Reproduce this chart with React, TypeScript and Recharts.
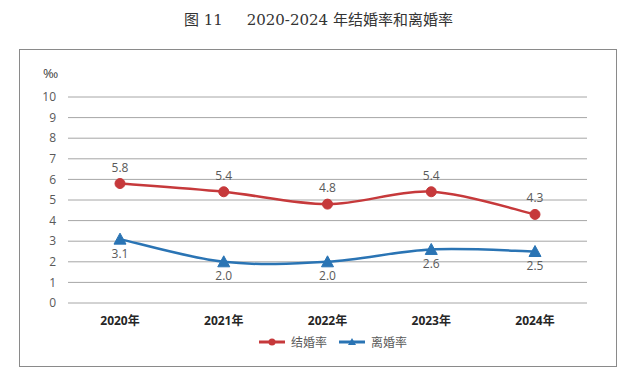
import React from "react";
import { LineChart, Line, XAxis, YAxis, CartesianGrid, LabelList } from "recharts";

const years = ["2020年", "2021年", "2022年", "2023年", "2024年"];
const marriageRate = [5.8, 5.4, 4.8, 5.4, 4.3];
const divorceRate = [3.1, 2.0, 2.0, 2.6, 2.5];
const yTicks = [0, 1, 2, 3, 4, 5, 6, 7, 8, 9, 10];

const RED = "#c6393b";
const BLUE = "#2a74b4";
const FONT = "'Open Sans', 'Noto Sans CJK SC', sans-serif";

const data = years.map((y, i) => ({ year: y, marriage: marriageRate[i], divorce: divorceRate[i] }));

// Catmull-Rom style smoothing, close to Excel's "smoothed line"
const smoothCurve = (ctx: any) => {
  let pts: [number, number][] = [];
  return {
    areaStart() {},
    areaEnd() {},
    lineStart() { pts = []; },
    point(x: number, y: number) { pts.push([+x, +y]); },
    lineEnd() {
      if (!pts.length) return;
      ctx.moveTo(pts[0][0], pts[0][1]);
      for (let i = 0; i < pts.length - 1; i++) {
        const p0 = pts[Math.max(i - 1, 0)];
        const p1 = pts[i];
        const p2 = pts[i + 1];
        const p3 = pts[Math.min(i + 2, pts.length - 1)];
        ctx.bezierCurveTo(
          p1[0] + (p2[0] - p0[0]) / 6, p1[1] + (p2[1] - p0[1]) / 6,
          p2[0] - (p3[0] - p1[0]) / 6, p2[1] - (p3[1] - p1[1]) / 6,
          p2[0], p2[1],
        );
      }
    },
  };
};

const Triangle = (props: any) => {
  const { cx, cy } = props;
  if (cx == null || cy == null) return null;
  return (
    <path
      d={`M${cx},${cy - 6} L${cx + 6},${cy + 5} L${cx - 6},${cy + 5} Z`}
      fill={BLUE}
      stroke={BLUE}
      strokeWidth={1}
    />
  );
};

const LegendItem = ({ color, label, tri }: { color: string; label: string; tri?: boolean }) => (
  <span style={{ display: "inline-flex", alignItems: "center", marginRight: 12 }}>
    <svg width={26} height={12} style={{ marginRight: 6 }}>
      <line x1={0} y1={6} x2={26} y2={6} stroke={color} strokeWidth={3} />
      {tri ? <path d="M13,2 L17,9 L9,9 Z" fill={color} /> : <circle cx={13} cy={6} r={3.5} fill={color} />}
    </svg>
    <span>{label}</span>
  </span>
);

export default function App() {
  return (
    <div style={{ position: "absolute", left: 0, top: 0, width: 640, height: 373, background: "#fff", fontFamily: FONT }}>
      <div
        style={{
          position: "absolute", left: 184, top: 8, fontSize: 15, color: "#333",
          fontFamily: "'DejaVu Serif', 'Liberation Serif', 'Noto Sans CJK SC', serif", whiteSpace: "pre",
        }}
      >
        {"图 11     2020-2024 年结婚率和离婚率"}
      </div>
      <div style={{ position: "absolute", left: 19, top: 49, width: 596, height: 316, border: "1px solid #8a8a8a" }} />
      <div style={{ position: "absolute", left: 43, top: 64, fontSize: 13, color: "#404040" }}>‰</div>
      <div style={{ position: "absolute", left: 0, top: 0 }}>
        <LineChart width={640} height={373} data={data} margin={{ top: 97, right: 53, left: 20, bottom: 0 }}>
          <CartesianGrid vertical={false} stroke="#a6a6a6" strokeWidth={1} />
          <XAxis
            dataKey="year"
            axisLine={false}
            tickLine={false}
            height={70}
            tickSize={0}
            tickMargin={13}
            padding={{ left: 52, right: 52 }}
            tick={{ fill: "#262626", fontSize: 12, fontWeight: "bold", fontFamily: FONT }}
          />
          <YAxis
            domain={[0, 10]}
            ticks={yTicks}
            width={48}
            axisLine={false}
            tickLine={false}
            tickSize={0}
            tickMargin={12}
            interval={0}
            tick={{ fill: "#595959", fontSize: 12, fontFamily: FONT }}
          />
          <Line
            type={smoothCurve as any}
            dataKey="marriage"
            stroke={RED}
            strokeWidth={2.5}
            dot={{ r: 5, fill: RED, stroke: RED, strokeWidth: 1 }}
            isAnimationActive={false}
          >
            <LabelList
              dataKey="marriage"
              position="top"
              offset={12}
              formatter={(v: any) => Number(v).toFixed(1)}
              style={{ fill: "#595959", fontSize: 12, fontFamily: FONT }}
            />
          </Line>
          <Line
            type={smoothCurve as any}
            dataKey="divorce"
            stroke={BLUE}
            strokeWidth={2.5}
            dot={<Triangle />}
            isAnimationActive={false}
          >
            <LabelList
              dataKey="divorce"
              position="bottom"
              offset={10}
              formatter={(v: any) => Number(v).toFixed(1)}
              style={{ fill: "#595959", fontSize: 12, fontFamily: FONT }}
            />
          </Line>
        </LineChart>
      </div>
      <div
        style={{
          position: "absolute", left: 259, top: 333, fontSize: 12, color: "#595959",
          display: "flex", alignItems: "center",
        }}
      >
        <LegendItem color={RED} label="结婚率" />
        <LegendItem color={BLUE} label="离婚率" tri />
      </div>
    </div>
  );
}
